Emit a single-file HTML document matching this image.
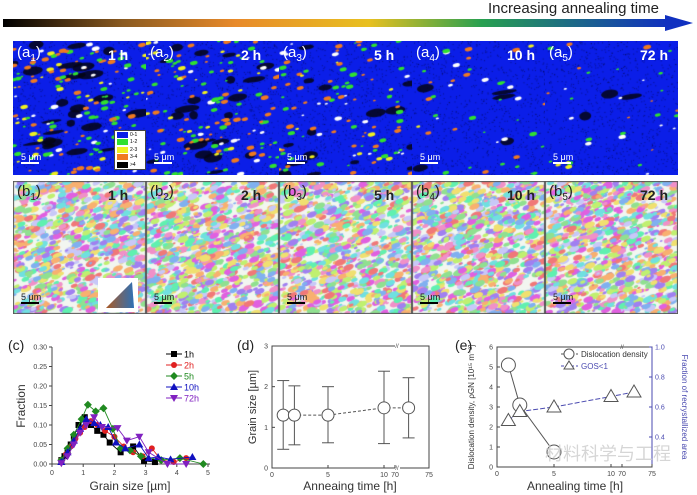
<!DOCTYPE html>
<html><head><meta charset="utf-8">
<style>
body{margin:0;width:697px;height:495px;background:#fff;overflow:hidden;position:relative;font-family:"Liberation Sans","Noto Sans CJK SC",sans-serif}
.abs{position:absolute}
canvas{position:absolute;display:block}
.lbl{position:absolute;font-size:15px;color:#fff}
.lbl sub{font-size:10px}
.tm{position:absolute;font-size:14px;font-weight:bold;color:#fff}
.sb{position:absolute;font-size:9px;color:#fff}
.blk{color:#222}
</style></head><body>
<div class="abs" style="left:488px;top:0px;font-size:15px;color:#222">Increasing annealing time</div>
<svg class="abs" style="left:0;top:14px" width="697" height="20">
<defs><linearGradient id="g" x1="0" x2="1"><stop offset="0" stop-color="#000"/><stop offset="0.18" stop-color="#8a5a20"/><stop offset="0.35" stop-color="#e88a2a"/><stop offset="0.55" stop-color="#e8c020"/><stop offset="0.72" stop-color="#28a050"/><stop offset="1" stop-color="#1030c0"/></linearGradient></defs>
<rect x="3" y="5" width="665" height="8" fill="url(#g)"/><polygon points="665,1 693,9 665,17" fill="#1030c0"/>
</svg>
<div id="maps"></div>
<svg id="charts" class="abs" style="left:0;top:330px" width="697" height="165"></svg>
<script>
// ---------- microstructure maps ----------
let seed=7;function rnd(){seed=(seed*16807)%2147483647;return seed/2147483647;}
const maps=document.getElementById('maps');
const xs=[13,146,279,412,545],times=['1 h','2 h','5 h','10 h','72 h'];
const density=[1,0.85,0.6,0.2,0.15];
for(let r=0;r<2;r++)for(let i=0;i<5;i++){
 const c=document.createElement('canvas');c.width=133;c.height=r?133:134;
 c.style.left=xs[i]+'px';c.style.top=(r?181:41)+'px';
 
 
 maps.appendChild(c);const g=c.getContext('2d');
 if(!r){g.fillStyle='#0b1ee8';g.fillRect(0,0,133,134);
  for(let k=0;k<900;k++){g.fillStyle='rgba(0,0,30,0.45)';g.fillRect(rnd()*133,rnd()*134,1,1);}
  const nb=Math.floor(25*density[i]);
  for(let k=0;k<nb;k++){g.fillStyle='rgba(5,5,20,0.85)';g.beginPath();g.ellipse(rnd()*133,rnd()*134,4+rnd()*9,1.5+rnd()*3,-0.15,0,7);g.fill();}
  const n=Math.floor(150*density[i])+12;
  for(let k=0;k<n;k++){const t=rnd();const col=t<0.4?'#30e030':t<0.7?'#f07a20':t<0.85?'#f0f020':'#ffffff';
   g.fillStyle=col;g.beginPath();const s=(0.8+rnd()*1.6);g.ellipse(rnd()*133,rnd()*134,s*1.7,s*0.9,-0.2,0,7);g.fill();}
 } else {g.fillStyle='#f2f6f0';g.fillRect(0,0,133,133);
  const pal=['#f090c8','#90e090','#c0f070','#80b0f0','#f07878','#a080f0','#70e0e0','#f0e070','#e060e0','#60f0b0','#c8c8f8','#f8b070'];
  for(let k=0;k<1100;k++){g.fillStyle=pal[Math.floor(rnd()*pal.length)];g.beginPath();const s=0.8+rnd()*2.4;g.ellipse(rnd()*133,rnd()*133,s*1.8,s,-0.35,0,7);g.fill();}
  g.strokeStyle='#555';g.strokeRect(0.5,0.5,132,132);}
 const L=document.createElement('div');L.className='lbl'+(r?' blk':'');L.style.left=(xs[i]+4)+'px';L.style.top=(r?183:44)+'px';
 L.innerHTML='('+(r?'b':'a')+'<sub>'+(i+1)+'</sub>)';maps.appendChild(L);
 const T=document.createElement('div');T.className='tm'+(r?' blk':'');T.style.left=(xs[i]+95)+'px';T.style.top=(r?187:47)+'px';T.textContent=times[i];
 maps.appendChild(T);
 const S=document.createElement('div');S.className='sb'+(r?' blk':'');S.style.left=(xs[i]+8)+'px';S.style.top=(r?292:152)+'px';
 S.innerHTML='5 μm<div style="width:18px;height:2px;background:'+(r?'#000':'#fff')+'"></div>';
 maps.appendChild(S);
}
// legend in a1
(function(){const d=document.createElement('div');d.className='abs';d.style.cssText='left:114px;top:130px;width:30px;height:38px;background:#fff;border:1px solid #444;font-size:5px';

const cs=['#0b1ee8','#30e030','#f0f020','#f07a20','#000'],ls=['0-1','1-2','2-3','3-4','>4'];
d.innerHTML=cs.map((c,k)=>'<div style="height:7.5px;display:flex;align-items:center"><span style="display:inline-block;width:11px;height:6px;background:'+c+';margin:0 2px"></span>'+ls[k]+'</div>').join('');maps.appendChild(d);
const t=document.createElementNS('http://www.w3.org/2000/svg','svg');t.setAttribute('width','40');t.setAttribute('height','34');t.style.cssText='position:absolute;left:98px;top:278px';

t.innerHTML='<rect width="40" height="34" fill="#fff"/><defs><linearGradient id="tg" x1="0" x2="1"><stop offset="0" stop-color="#e02020"/><stop offset="1" stop-color="#3040f0"/></linearGradient></defs><polygon points="8,30 36,30 34,4" fill="url(#tg)"/><polygon points="8,30 36,30 34,4" fill="#30e030" opacity=".3"/>';maps.appendChild(t);})();

// ---------- charts ----------
const NS='http://www.w3.org/2000/svg';const svg=document.getElementById('charts');
function el(tag,at,txt){const e=document.createElementNS(NS,tag);for(const k in at)e.setAttribute(k,at[k]);if(txt!=null)e.textContent=txt;svg.appendChild(e);return e;}
// (c) grain size distributions
const cSeries=['1h','2h','5h','10h','72h'];
const cColors=['#000','#e02020','#208a20','#1010c0','#8020c0'];
const cX1h=[0.3,0.4,0.5,0.6,0.7,0.85,1.05,1.25,1.45,1.65,1.85,2.2,2.6,2.95,3.3];
const cY1h=[0.01,0.02,0.035,0.05,0.07,0.1,0.12,0.1,0.085,0.075,0.055,0.03,0.045,0.008,0.005];
const cX2h=[0.3,0.45,0.6,0.75,0.9,1.05,1.25,1.45,1.7,2.0,2.3,2.6,2.9,3.2,3.5,3.9,4.3];
const cY2h=[0.01,0.025,0.045,0.065,0.08,0.095,0.11,0.1,0.085,0.07,0.045,0.03,0.02,0.04,0.01,0.005,0.015];
const cX5h=[0.3,0.5,0.7,0.95,1.15,1.4,1.65,1.95,2.2,2.5,2.85,3.5,4.1,4.85];
const cY5h=[0.01,0.04,0.075,0.115,0.152,0.135,0.143,0.09,0.04,0.035,0.02,0.01,0.015,0.0];
const cX10h=[0.3,0.5,0.7,0.9,1.1,1.35,1.55,1.8,2.05,2.35,2.8,3.1,3.4,3.8,4.5];
const cY10h=[0.005,0.03,0.06,0.09,0.115,0.105,0.1,0.095,0.055,0.04,0.05,0.015,0.018,0.012,0.018];
const cX72h=[0.3,0.5,0.7,0.9,1.1,1.35,1.6,2.1,2.4,2.8,3.1,3.7,4.3];
const cY72h=[0.002,0.02,0.05,0.08,0.1,0.12,0.095,0.092,0.06,0.07,0.03,0.0,0.0];
const cXTicks=[0,1,2,3,4,5],cYTicks=[0,0.05,0.1,0.15,0.2,0.25,0.3];
const cx=v=>52+v*(208-52)/5, cy=v=>134-v*(134-17)/0.3;
// (d)
const dTimes=[1,2,5,10,72],dMean=[1.3,1.3,1.3,1.48,1.48],dUp=[2.15,2.02,2.0,2.38,2.22],dLow=[0.46,0.57,0.62,0.6,0.74];
const dXTicks=[0,5,10,70,75],dYTicks=[0,1,2,3];
const dx=v=>v<=10?272+v*11.2:395+(v-70)*6.8, dy=v=>138-v*(138-16)/3;
// (e)
const eTimes=[1,2,5,10,72],eDisloc=[5.1,3.1,0.75],eGOS=[0.51,0.57,0.6,0.67,0.7];
const eXTicks=[0,5,10,70,75],eYTicks=[0,1,2,3,4,5,6],eRTicks=[0.4,0.6,0.8,1.0];
const ex=v=>v<=10?497+v*11.4:622+(v-70)*6, ey=v=>137-v*(137-17)/6, ery=v=>137-(v-0.2)*(137-17)/0.8;

function marker(type,x,y,c,name){let e;const s=3;
 if(type==0)e=el('rect',{x:x-s,y:y-s,width:2*s,height:2*s,fill:c});
 else if(type==1)e=el('circle',{cx:x,cy:y,r:s,fill:c});
 else if(type==2)e=el('polygon',{points:`${x},${y-4} ${x+4},${y} ${x},${y+4} ${x-4},${y}`,fill:c});
 else if(type==3)e=el('polygon',{points:`${x},${y-4} ${x+4},${y+3} ${x-4},${y+3}`,fill:c});
 else e=el('polygon',{points:`${x-4},${y-3} ${x+4},${y-3} ${x},${y+4}`,fill:c});
 }
// draw (c)
el('text',{x:8,y:20,'font-size':14,fill:'#222'},'(c)');
el('line',{x1:52,y1:134,x2:210,y2:134,stroke:'#444'});el('line',{x1:52,y1:17,x2:52,y2:134,stroke:'#444'});
cXTicks.forEach(t=>{el('line',{x1:cx(t),y1:134,x2:cx(t),y2:137,stroke:'#444'});el('text',{x:cx(t),y:145,'font-size':7,'text-anchor':'middle',fill:'#444'},t);});
cYTicks.forEach(t=>{el('line',{x1:49,y1:cy(t),x2:52,y2:cy(t),stroke:'#444'});el('text',{x:47,y:cy(t)+2.5,'font-size':7,'text-anchor':'end',fill:'#444'},t.toFixed(2));});
el('text',{x:130,y:160,'font-size':12,'text-anchor':'middle',fill:'#333'},'Grain size [µm]');
el('text',{x:25,y:76,'font-size':12,'text-anchor':'middle',fill:'#333',transform:'rotate(-90 25 76)'},'Fraction');
const cXs=[cX1h,cX2h,cX5h,cX10h,cX72h],cYs=[cY1h,cY2h,cY5h,cY10h,cY72h];
cSeries.forEach((s,i)=>{const p=el('polyline',{points:cXs[i].map((x,k)=>cx(x)+','+cy(cYs[i][k])).join(' '),fill:'none',stroke:cColors[i],'stroke-width':0.9});
 
 cXs[i].forEach((x,k)=>marker(i,cx(x),cy(cYs[i][k]),cColors[i],'point-'+s));
 const ly=24+i*11;el('line',{x1:166,y1:ly,x2:182,y2:ly,stroke:cColors[i]});marker(i,174,ly,cColors[i],'legend-marker-'+s);
 el('text',{x:184,y:ly+3.5,'font-size':9,fill:cColors[i]},s);});
// draw (d)
el('text',{x:237,y:20,'font-size':14,fill:'#222'},'(d)');
el('rect',{x:272,y:16,width:157,height:122,fill:'none',stroke:'#444'});
[[397,16],[397,138]].forEach(([x,y])=>{el('rect',{x:x-2,y:y-2,width:5,height:4,fill:'#fff'});el('text',{x:x,y:y+2,'font-size':6,'text-anchor':'middle',fill:'#444'},'//');});
dXTicks.forEach(t=>{el('line',{x1:dx(t),y1:138,x2:dx(t),y2:135,stroke:'#444'});el('text',{x:dx(t),y:147,'font-size':7,'text-anchor':'middle',fill:'#444'},t);});
dYTicks.forEach(t=>{el('line',{x1:272,y1:dy(t),x2:275,y2:dy(t),stroke:'#444'});el('text',{x:268,y:dy(t)+2.5,'font-size':7,'text-anchor':'end',fill:'#444'},t);});
el('text',{x:350,y:160,'font-size':12,'text-anchor':'middle',fill:'#333'},'Anneaing time [h]');
el('text',{x:256,y:77,'font-size':11,'text-anchor':'middle',fill:'#333',transform:'rotate(-90 256 77)'},'Grain size [µm]');
el('polyline',{points:dTimes.map((t,k)=>dx(t)+','+dy(dMean[k])).join(' '),fill:'none',stroke:'#555','stroke-dasharray':'3,2',});
dTimes.forEach((t,k)=>{const x=dx(t);el('line',{x1:x,y1:dy(dUp[k]),x2:x,y2:dy(dLow[k]),stroke:'#555'});
 [dUp[k],dLow[k]].forEach(v=>el('line',{x1:x-6,y1:dy(v),x2:x+6,y2:dy(v),stroke:'#555'}));
 el('circle',{cx:x,cy:dy(dMean[k]),r:6,fill:'#fff',stroke:'#555',});});
// draw (e)
el('text',{x:455,y:20,'font-size':14,fill:'#222'},'(e)');
el('rect',{x:497,y:17,width:155,height:120,fill:'none',stroke:'#444'});
el('line',{x1:652,y1:17,x2:652,y2:137,stroke:'#4a4ab0'});
el('text',{x:622,y:19,'font-size':6,'text-anchor':'middle',fill:'#444'},'//');
eXTicks.forEach(t=>{el('line',{x1:ex(t),y1:137,x2:ex(t),y2:134,stroke:'#444'});el('text',{x:ex(t),y:146,'font-size':7,'text-anchor':'middle',fill:'#444'},t);});
eYTicks.forEach(t=>{el('line',{x1:497,y1:ey(t),x2:500,y2:ey(t),stroke:'#444'});el('text',{x:493,y:ey(t)+2.5,'font-size':7,'text-anchor':'end',fill:'#444'},t);});
eRTicks.forEach(t=>{el('line',{x1:649,y1:ery(t),x2:652,y2:ery(t),stroke:'#4a4ab0'});el('text',{x:655,y:ery(t)+2.5,'font-size':7,fill:'#4a4ab0'},t.toFixed(1));});
el('text',{x:575,y:160,'font-size':12,'text-anchor':'middle',fill:'#333'},'Annealing time [h]');
el('text',{x:474,y:77,'font-size':8,'text-anchor':'middle',fill:'#333',transform:'rotate(-90 474 77)'},'Dislocation density, ρGN [10¹⁵ m⁻²]');
el('text',{x:682,y:77,'font-size':8,'text-anchor':'middle',fill:'#4a4ab0',transform:'rotate(90 682 77)'},'Fraction of recrystallized area');
el('polyline',{points:eTimes.slice(0,3).map((t,k)=>ex(t)+','+ey(eDisloc[k])).join(' '),fill:'none',stroke:'#555',});
el('polyline',{points:eTimes.map((t,k)=>ex(t)+','+ery(eGOS[k])).join(' '),fill:'none',stroke:'#4a4ab0','stroke-dasharray':'5,2',});
eDisloc.forEach((v,k)=>el('circle',{cx:ex(eTimes[k]),cy:ey(v),r:7,fill:'#fff',stroke:'#555',}));
eGOS.forEach((v,k)=>{const x=ex(eTimes[k]),y=ery(v);el('polygon',{points:`${x},${y-7} ${x+7},${y+5} ${x-7},${y+5}`,fill:'#fff',stroke:'#555',});});
el('line',{x1:561,y1:24,x2:578,y2:24,stroke:'#555','stroke-dasharray':'3,2'});el('circle',{cx:569,cy:24,r:5,fill:'#fff',stroke:'#555'});
el('text',{x:581,y:27,'font-size':8,fill:'#333'},'Dislocation density');
el('line',{x1:561,y1:36,x2:578,y2:36,stroke:'#4a4ab0','stroke-dasharray':'3,2'});el('polygon',{points:'569,31 574,39 564,39',fill:'#fff',stroke:'#555'});
el('text',{x:581,y:39,'font-size':8,fill:'#4a4ab0'},'GOS<1');
el('text',{x:545,y:130,'font-size':18,fill:'#ccc',opacity:0.8,},'材料科学与工程');
</script>
</body></html>
